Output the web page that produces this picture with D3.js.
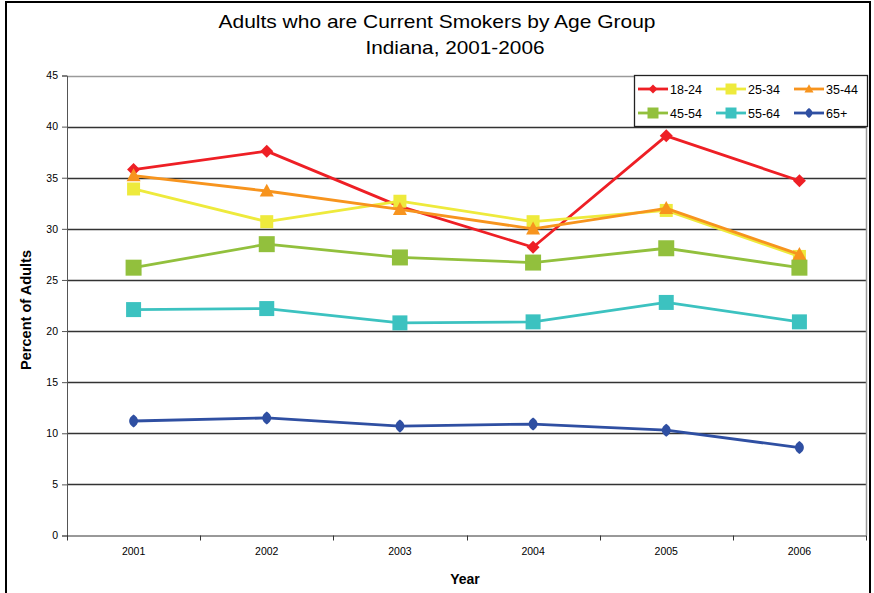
<!DOCTYPE html>
<html>
<head>
<meta charset="utf-8">
<script src="https://cdn.jsdelivr.net/npm/d3@7"></script>
<style>
  html, body { margin: 0; padding: 0; background: #fff; }
  svg { display: block; font-family: "Liberation Sans", Arial, sans-serif; }
</style>
</head>
<body>
<svg id="chart" width="874" height="593"></svg>
<script>
// Smoking prevalence (%) among Indiana adults, by age group
const years = ["2001", "2002", "2003", "2004", "2005", "2006"];
const ages18to24 = [35.8, 37.6, 32.2, 28.2, 39.1, 34.7];
const ages25to34 = [33.9, 30.7, 32.7, 30.7, 31.8, 27.3];
const ages35to44 = [35.2, 33.7, 31.9, 30.0, 32.0, 27.5];
const ages45to54 = [26.2, 28.5, 27.2, 26.7, 28.1, 26.2];
const ages55to64 = [22.1, 22.2, 20.8, 20.9, 22.8, 20.9];
const ages65plus = [11.2, 11.5, 10.7, 10.9, 10.3, 8.6];
const yTicks = [0, 5, 10, 15, 20, 25, 30, 35, 40, 45];

const series = [
  { name: "18-24", values: ages18to24, color: "#ee1f25", marker: "diamond", size: 13 },
  { name: "25-34", values: ages25to34, color: "#eeea3c", marker: "square", size: 13 },
  { name: "35-44", values: ages35to44, color: "#f7941e", marker: "triangle", size: 14 },
  { name: "45-54", values: ages45to54, color: "#92c03d", marker: "square", size: 16 },
  { name: "55-64", values: ages55to64, color: "#3cc2c0", marker: "square", size: 15 },
  { name: "65+",   values: ages65plus, color: "#2f4fa2", marker: "ellipse", size: 10.5 }
];

const svg = d3.select("#chart");

// outer frame
svg.append("path")
  .attr("d", "M6,600 L6,2 L870,2 L870,600")
  .attr("fill", "none").attr("stroke", "#000").attr("stroke-width", 2);

const plot = { left: 67, right: 866, top: 75.5, bottom: 535.5 };

const x = d3.scaleBand().domain(years).range([plot.left, plot.right]);
const y = d3.scaleLinear().domain([0, 45]).range([plot.bottom, plot.top]);

// titles
svg.append("text").attr("x", 437).attr("y", 28).attr("text-anchor", "middle")
  .attr("font-size", 19).attr("textLength", 437).attr("lengthAdjust", "spacingAndGlyphs")
  .text("Adults who are Current Smokers by Age Group");
svg.append("text").attr("x", 455).attr("y", 54).attr("text-anchor", "middle")
  .attr("font-size", 19).attr("textLength", 179).attr("lengthAdjust", "spacingAndGlyphs")
  .text("Indiana, 2001-2006");

// horizontal gridlines
svg.append("g").selectAll("line").data(yTicks.filter(t => t > 0)).join("line")
  .attr("x1", plot.left).attr("x2", plot.right)
  .attr("y1", d => Math.round(y(d)) + 0.5).attr("y2", d => Math.round(y(d)) + 0.5)
  .attr("stroke", d => d === 45 ? "#9a9a9a" : "#333")
  .attr("stroke-width", d => d === 45 ? 1.5 : 1.3);

// right edge of plot area
svg.append("line").attr("x1", plot.right + 0.5).attr("x2", plot.right + 0.5)
  .attr("y1", plot.top).attr("y2", plot.bottom)
  .attr("stroke", "#9a9a9a").attr("stroke-width", 1.5);

// y axis
const yAxis = d3.axisLeft(y).tickValues(yTicks).tickSize(5).tickPadding(4);
const gy = svg.append("g").attr("transform", `translate(${plot.left},0)`).call(yAxis);
gy.select(".domain").attr("stroke", "#555");
gy.selectAll(".tick line").attr("stroke", "#555");
gy.selectAll(".tick text").attr("font-size", 10.5).attr("fill", "#000")
  .attr("font-family", "'Liberation Sans Narrow', 'Liberation Sans', Arial, sans-serif");

// x axis with ticks between categories
const xAxis = d3.axisBottom(x).tickSize(0).tickPadding(12);
const gx = svg.append("g").attr("transform", `translate(0,${plot.bottom})`).call(xAxis);
gx.select(".domain").attr("stroke", "#333").attr("d", `M${plot.left},0.5H${plot.right}`);
gx.selectAll(".tick text").attr("font-size", 10.5).attr("fill", "#000")
  .attr("font-family", "'Liberation Sans Narrow', 'Liberation Sans', Arial, sans-serif");
const bounds = years.map(d => x(d)).concat([x(years[years.length - 1]) + x.bandwidth()]);
gx.append("g").selectAll("line").data(bounds).join("line")
  .attr("x1", d => Math.round(d) + 0.5).attr("x2", d => Math.round(d) + 0.5)
  .attr("y1", 0).attr("y2", 5).attr("stroke", "#333");

// axis titles
svg.append("text").attr("x", 465).attr("y", 584).attr("text-anchor", "middle")
  .attr("font-size", 14).attr("font-weight", "bold").text("Year");
svg.append("text").attr("transform", "translate(31,310) rotate(-90)")
  .attr("text-anchor", "middle").attr("font-size", 14).attr("font-weight", "bold")
  .attr("textLength", 120).attr("lengthAdjust", "spacingAndGlyphs")
  .text("Percent of Adults");

// marker drawing
function markerPath(kind, s) {
  const h = s / 2;
  if (kind === "diamond") return `M0,${-h}L${h},0L0,${h}L${-h},0Z`;
  if (kind === "square") return `M${-h},${-h}H${h}V${h}H${-h}Z`;
  if (kind === "triangle") return `M0,${-h * 1.05}L${h},${h * 0.8}L${-h},${h * 0.8}Z`;
  // tall rounded diamond
  const w = s * 0.42, t = s * 0.62;
  return `M0,${-t}C${w * 0.9},${-t * 0.6} ${w},${-t * 0.2} ${w},0C${w},${t * 0.2} ${w * 0.9},${t * 0.6} 0,${t}` +
         `C${-w * 0.9},${t * 0.6} ${-w},${t * 0.2} ${-w},0C${-w},${-t * 0.2} ${-w * 0.9},${-t * 0.6} 0,${-t}Z`;
}

const cx = d => x(d) + x.bandwidth() / 2;
const line = d3.line().x((v, i) => cx(years[i])).y(v => y(v));

const gs = svg.append("g").selectAll("g").data(series).join("g");
gs.append("path")
  .attr("d", s => line(s.values))
  .attr("fill", "none").attr("stroke", s => s.color).attr("stroke-width", 2.8)
  .attr("stroke-linejoin", "round");
gs.each(function (s) {
  d3.select(this).selectAll("path.m").data(s.values).join("path").attr("class", "m")
    .attr("transform", (v, i) => `translate(${cx(years[i])},${y(v)})`)
    .attr("d", markerPath(s.marker, s.size))
    .attr("fill", s.color);
});

// legend
const lg = svg.append("g");
lg.append("rect").attr("x", 634.5).attr("y", 75.5).attr("width", 233).attr("height", 51)
  .attr("fill", "#fff").attr("stroke", "#222").attr("stroke-width", 1.3);
const legX = [638, 716, 794], legY = [89, 113];
series.forEach((s, i) => {
  const lx = legX[i % 3], ly = legY[Math.floor(i / 3)];
  const item = lg.append("g").attr("transform", `translate(${lx},${ly})`);
  item.append("line").attr("x1", 0).attr("x2", 30).attr("stroke", s.color).attr("stroke-width", 2.8);
  const ms = s.marker === "square" ? Math.min(s.size, 11) : (s.marker === "ellipse" ? 8 : 9);
  item.append("path").attr("transform", "translate(15,0)").attr("d", markerPath(s.marker, ms)).attr("fill", s.color);
  item.append("text").attr("x", 32).attr("y", 4.5).attr("font-size", 12.5).attr("fill", "#000").text(s.name);
});
</script>
</body>
</html>
